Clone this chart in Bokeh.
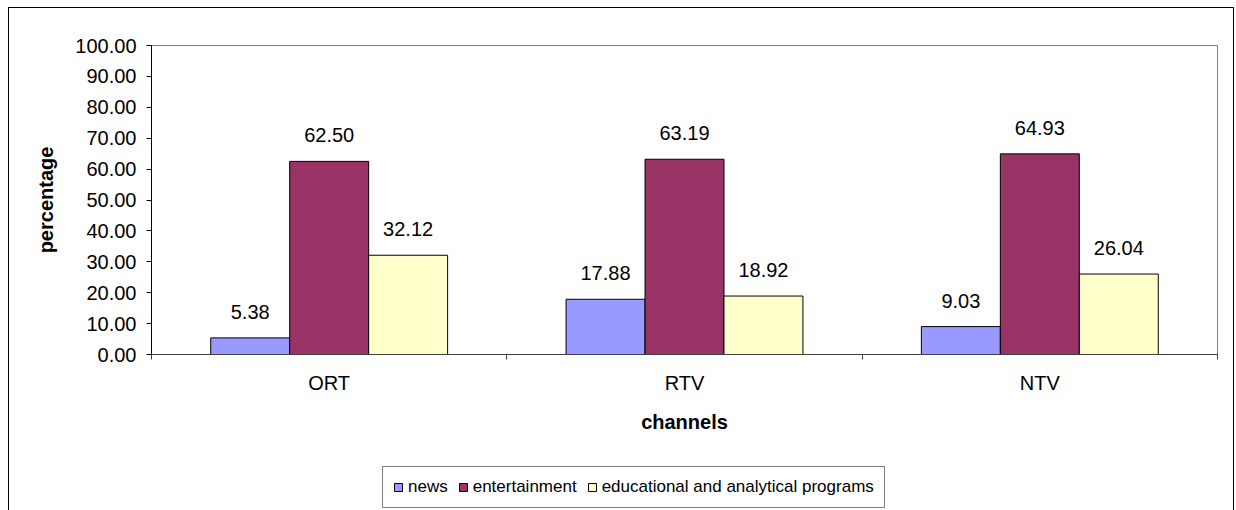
from bokeh.plotting import figure
from bokeh.layouts import column
from bokeh.models import (ColumnDataSource, FixedTicker, LabelSet, Legend, LegendItem,
                          Range1d, InlineStyleSheet)
from bokeh.transform import dodge
from bokeh.core.properties import value
from bokeh.embed import file_html
from bokeh.resources import INLINE

channels = ["ORT", "RTV", "NTV"]
news = [5.38, 17.88, 9.03]
entertainment = [62.50, 63.19, 64.93]
educational = [32.12, 18.92, 26.04]
series_names = ["news", "entertainment", "educational and analytical programs"]
colors = ["#9999FF", "#993366", "#FFFFCC"]
y_ticks = [0, 10, 20, 30, 40, 50, 60, 70, 80, 90, 100]

FONT = "Liberation Sans"

centers = [i + 0.5 for i in range(len(channels))]
bar_w = 1 / 4.5

src = ColumnDataSource(dict(
    x=centers,
    news=news,
    entertainment=entertainment,
    educational=educational,
    news_lbl=["%.2f" % v for v in news],
    ent_lbl=["%.2f" % v for v in entertainment],
    edu_lbl=["%.2f" % v for v in educational],
))

p = figure(width=1236, height=460, output_backend="svg", toolbar_location=None,
           x_range=Range1d(0, len(channels)), y_range=Range1d(0, 100),
           min_border_left=151, min_border_right=19, min_border_top=45, min_border_bottom=106)
p.frame_width = 1066
p.frame_height = 309
p.margin = 0

p.background_fill_color = "white"
p.border_fill_color = "white"
p.outline_line_color = "#808080"
p.outline_line_width = 1
p.xgrid.visible = False
p.ygrid.visible = False

fields = ["news", "entertainment", "educational"]
lbls = ["news_lbl", "ent_lbl", "edu_lbl"]
offsets = [-bar_w, 0, bar_w]
for f, c, off, lb in zip(fields, colors, offsets, lbls):
    p.vbar(x=dodge("x", off, range=p.x_range), top=f, width=bar_w, source=src,
           fill_color=c, line_color="black", line_width=1)
    ls = LabelSet(x=dodge("x", off, range=p.x_range), y=f, text=lb, source=src,
                  text_align="center", text_baseline="alphabetic", y_offset=19,
                  text_font=value(FONT), text_font_size="20px", text_color="black")
    p.add_layout(ls)

# y axis
p.yaxis.ticker = FixedTicker(ticks=y_ticks)
p.yaxis.major_label_overrides = {t: "%.2f" % t for t in y_ticks}
p.yaxis.major_tick_out = 5
p.yaxis.major_tick_in = 0
p.yaxis.minor_tick_out = 0
p.yaxis.minor_tick_in = 0
p.yaxis.major_label_standoff = 10
p.yaxis.major_label_text_font = FONT
p.yaxis.major_label_text_font_size = "20px"
p.yaxis.major_label_text_color = "black"
p.yaxis.axis_line_color = "black"
p.yaxis.major_tick_line_color = "black"
p.yaxis.axis_label = "percentage"
p.yaxis.axis_label_text_font = FONT
p.yaxis.axis_label_text_font_size = "20px"
p.yaxis.axis_label_text_font_style = "bold"
p.yaxis.axis_label_text_color = "black"
p.yaxis.axis_label_standoff = 15

# x axis
p.xaxis.ticker = FixedTicker(ticks=centers, minor_ticks=list(range(len(channels) + 1)))
p.xaxis.major_label_overrides = {c: n for c, n in zip(centers, channels)}
p.xaxis.major_tick_out = 0
p.xaxis.major_tick_in = 0
p.xaxis.minor_tick_out = 5
p.xaxis.minor_tick_in = 0
p.xaxis.minor_tick_line_color = "#404040"
p.xaxis.axis_line_color = "#404040"
p.xaxis.major_label_standoff = 12
p.xaxis.major_label_text_font = FONT
p.xaxis.major_label_text_font_size = "20px"
p.xaxis.major_label_text_color = "black"
p.xaxis.axis_label = "channels"
p.xaxis.axis_label_text_font = FONT
p.xaxis.axis_label_text_font_size = "20px"
p.xaxis.axis_label_text_font_style = "bold"
p.xaxis.axis_label_text_color = "black"
p.xaxis.axis_label_standoff = 14

# legend strip (separate small figure below the chart; its renderers are hidden)
pl = figure(width=1236, height=50, output_backend="svg", toolbar_location=None,
            x_axis_location=None, y_axis_location=None,
            x_range=Range1d(100, 101), y_range=Range1d(1000, 1001),
            min_border=0, min_border_left=0, min_border_right=0,
            min_border_top=0, min_border_bottom=0)
pl.margin = 0
pl.outline_line_color = None
pl.xgrid.visible = False
pl.ygrid.visible = False
pl.background_fill_color = "white"
pl.border_fill_color = "white"
legend_renderers = []
for f, c in zip(fields, colors):
    r = pl.vbar(x="x", top=f, width=bar_w, source=src, fill_color=c,
                line_color="black", line_width=1)
    r.visible = False
    legend_renderers.append(r)

legend = Legend(items=[LegendItem(label=n, renderers=[r])
                       for n, r in zip(series_names, legend_renderers)],
                orientation="horizontal", location=(231, 2), click_policy="none",
                label_text_font=FONT, label_text_font_size="17px", label_text_color="black",
                glyph_width=10, glyph_height=10, label_height=20, label_standoff=5,
                spacing=10, padding=10, margin=0,
                border_line_color="black", border_line_width=1,
                background_fill_color="white", background_fill_alpha=1)
pl.add_layout(legend, "center")

layout = column(p, pl, spacing=0)
layout.stylesheets = [InlineStyleSheet(css="""
:host { position: relative; }
:host::after { content: ""; position: absolute; left: 8px; top: 7px; width: 1226px; height: 540px;
  border: 1px solid #000; box-sizing: border-box; pointer-events: none; z-index: 10; }
""")]

open("out.html", "w").write(file_html(layout, INLINE))
